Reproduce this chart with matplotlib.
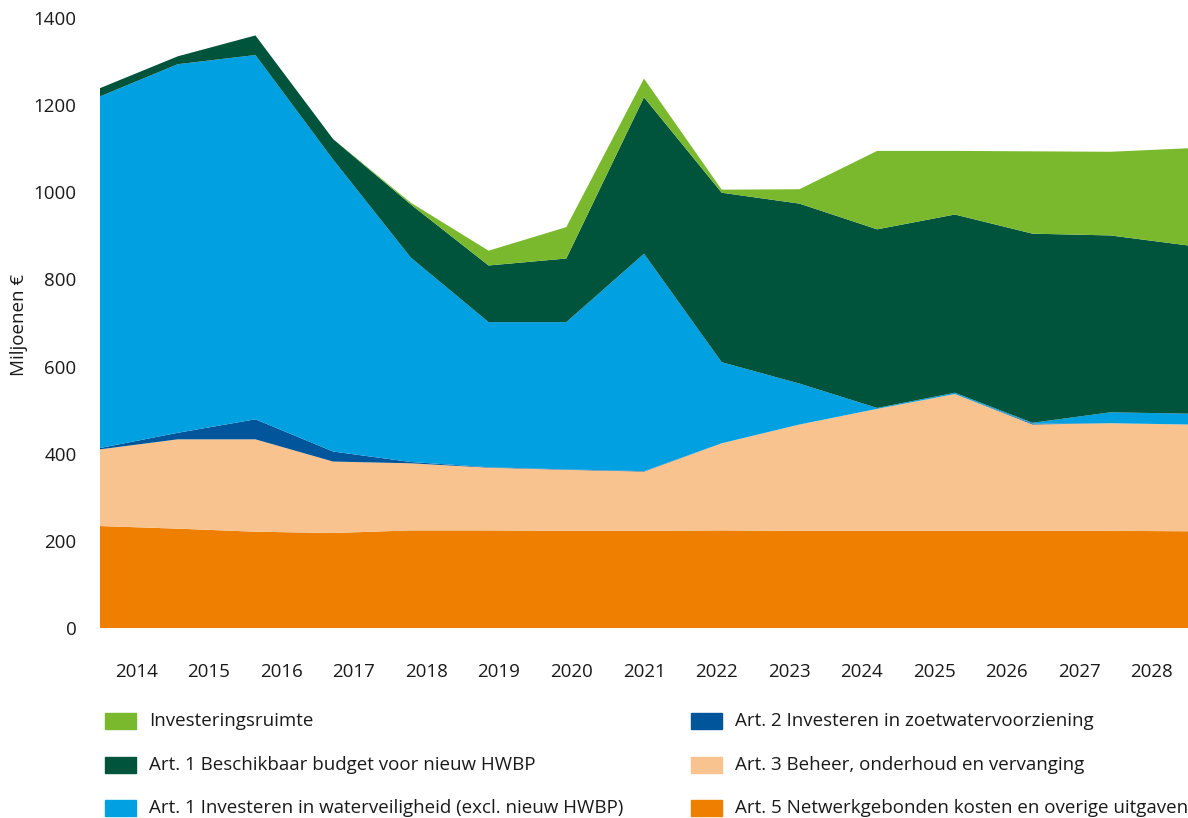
import matplotlib
matplotlib.use('Agg')
import matplotlib.pyplot as plt
import numpy as np
from matplotlib.patches import Rectangle

plt.rcParams['font.family'] = ['Open Sans', 'DejaVu Sans']

# jaren en bedragen (miljoenen euro)
jaren = [2014, 2015, 2016, 2017, 2018, 2019, 2020, 2021, 2022, 2023, 2024, 2025, 2026, 2027, 2028]
art5_netwerk = [234, 228, 221, 218, 224, 224, 223, 223, 224, 223, 223, 223, 223, 223, 222]
art3_beheer = [176, 205, 212, 164, 154, 144, 140, 136, 200, 244, 280, 314, 244, 247, 245]
art2_zoetwater = [3, 15, 46, 23, 3, 1, 1, 1, 0, 0, 0, 0, 2, 0, 0]
art1_waterveiligheid = [807, 846, 836, 670, 469, 333, 338, 499, 186, 94, 2, 3, 2, 25, 25]
art1_hwbp = [19, 18, 45, 47, 122, 130, 146, 359, 389, 413, 410, 409, 434, 406, 386]
investeringsruimte = [0, 0, 0, 0, 4, 34, 72, 43, 7, 33, 180, 146, 189, 192, 223]

labels = ['Art. 5 Netwerkgebonden kosten en overige uitgaven',
          'Art. 3 Beheer, onderhoud en vervanging',
          'Art. 2 Investeren in zoetwatervoorziening',
          'Art. 1 Investeren in waterveiligheid (excl. nieuw HWBP)',
          'Art. 1 Beschikbaar budget voor nieuw HWBP',
          'Investeringsruimte']
kleuren = ['#EE7F00', '#F8C38E', '#00559B', '#00A0E1', '#00543C', '#7AB92D']
tekstkleur = '#1a1a1a'
fs = 13.5

fig = plt.figure(figsize=(11.88, 8.18), dpi=100)
ax = fig.add_axes([100 / 1188, 1 - 628 / 818, 1088 / 1188, 610 / 818])

n = len(jaren)
x = np.arange(n) * n / (n - 1)
ax.stackplot(x, art5_netwerk, art3_beheer, art2_zoetwater, art1_waterveiligheid,
             art1_hwbp, investeringsruimte, colors=kleuren, linewidth=0)

ax.set_xlim(0, n)
ax.set_ylim(0, 1400)
ax.set_xticks(np.arange(n) + 0.5)
ax.set_xticklabels([str(j) for j in jaren], fontsize=fs, color=tekstkleur)
ax.set_yticks(range(0, 1401, 200))
ax.set_yticklabels([str(v) for v in range(0, 1401, 200)], fontsize=fs, color=tekstkleur)
ax.tick_params(length=0)
ax.tick_params(axis='x', pad=25)
ax.tick_params(axis='y', pad=17)
for s in ax.spines.values():
    s.set_visible(False)

fig.text(19 / 1188, 1 - 325 / 818, 'Miljoenen €', fontsize=fs, color=tekstkleur,
         rotation=90, ha='center', va='center')

# legenda in twee kolommen
volgorde = [(5, 105, 721), (4, 105, 765), (3, 105, 808),
            (2, 691, 721), (1, 691, 765), (0, 691, 808)]
for idx, px, py in volgorde:
    fig.patches.append(Rectangle((px / 1188, 1 - (py + 8) / 818), 31 / 1188, 16 / 818,
                                 transform=fig.transFigure, color=kleuren[idx]))
    fig.text((px + 44) / 1188, 1 - py / 818, labels[idx], fontsize=fs,
             color=tekstkleur, va='center', ha='left')

plt.savefig('out.png', dpi=100)
plt.close()
